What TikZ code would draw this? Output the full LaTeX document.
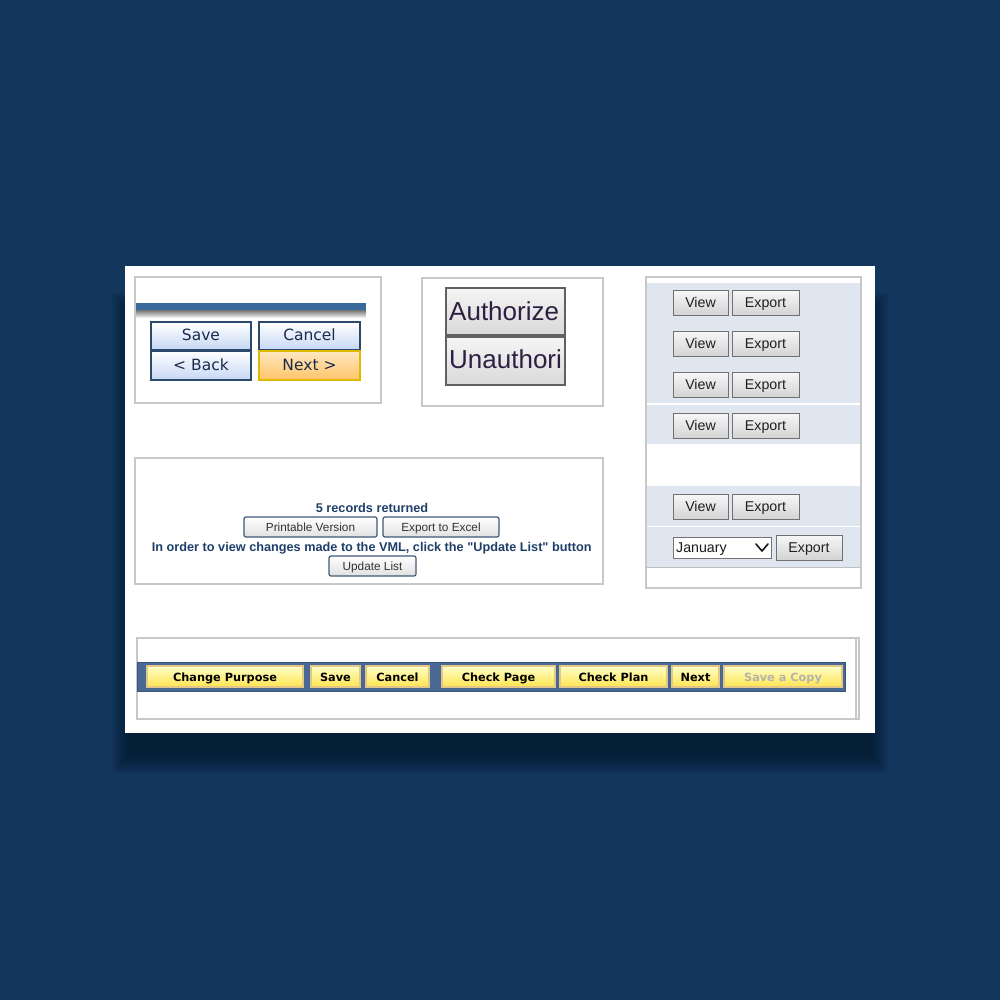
\documentclass[tikz,border=0pt]{standalone}
\usepackage{fontspec}
\newfontfamily\dv{DejaVu Sans}
\newfontfamily\lib{Liberation Sans}
\definecolor{bgc}{HTML}{13375C}
\definecolor{shd}{HTML}{050E1A}
\definecolor{pbord}{HTML}{C8C8C8}
\definecolor{barblue}{HTML}{3A6A9C}
\definecolor{navyb}{HTML}{2B4A6B}
\definecolor{lightblue}{HTML}{C6D7F4}
\definecolor{goldb}{HTML}{E0B800}
\definecolor{orangef}{HTML}{FFC468}
\definecolor{navytext}{HTML}{1A2A4A}
\definecolor{authtext}{HTML}{2C2042}
\definecolor{band}{HTML}{DFE6EF}
\definecolor{midtext}{HTML}{1F3F6A}
\definecolor{midbord}{HTML}{3F5A78}
\definecolor{steel}{HTML}{4A6894}
\definecolor{steelb}{HTML}{3A5478}
\definecolor{yelt}{HTML}{FFFFC8}
\definecolor{yelb}{HTML}{FFE450}
\definecolor{yelbord}{HTML}{E2C68A}
\definecolor{disabled}{HTML}{B4B4AC}
\tikzset{
  panel/.style={draw=pbord, line width=1.2pt, fill=white},
  box/.style={anchor=north west, inner sep=0pt, outer sep=0pt, text height=0.95em, text depth=0em},
  navybtn/.style={box, draw=navyb, line width=1.5pt, top color=white, bottom color=lightblue, text=navytext, font=\dv\fontsize{15.5}{18}\selectfont},
  nextbtn/.style={box, draw=goldb, line width=1.5pt, top color=white!60!orangef, bottom color=orangef, text=navytext, font=\dv\fontsize{15.5}{18}\selectfont},
  authbtn/.style={box, draw=black!62, line width=2.2pt, top color=black!4, bottom color=black!15},
  authtxt/.style={anchor=west, inner sep=0pt, text=authtext, font=\lib\fontsize{26}{30}\selectfont},
  graybtn/.style={box, draw=black!56, line width=1pt, top color=black!3, bottom color=black!17, text=black!88, font=\lib\fontsize{14.2}{16}\selectfont},
  midbtn/.style={box, draw=midbord, line width=1.2pt, rounded corners=2pt, top color=white, bottom color=black!12, text=black!80, font=\lib\fontsize{11.8}{14}\selectfont},
  midtxt/.style={inner sep=0pt, text=midtext, font=\lib\bfseries\fontsize{12.7}{15}\selectfont, text height=0.96em, text depth=0em},
  yelbtn/.style={box, draw=yelbord, line width=1.2pt, top color=yelt, bottom color=yelb, text=black, font=\dv\bfseries\fontsize{11.3}{13}\selectfont},
}
\begin{document}
\begin{tikzpicture}[x=1pt,y=-1pt]
\fill[bgc] (0,0) rectangle (1000,1000);
\useasboundingbox (0,0) rectangle (1000,1000);
% shadow
\foreach \i in {0,...,18} {
  \fill[shd, opacity=0.03] (129-\i,310-\i) rectangle (871+\i,756+\i);
}
% card
\fill[white] (125,266) rectangle (875,733);

% ---------- panel 1
\draw[panel] (135,277) rectangle (381,403);
\fill[barblue] (136,303) rectangle (366,310);
\shade[top color=black!55, bottom color=black!8] (136,310) rectangle (366,317);
\node[navybtn, minimum width=100pt, minimum height=28pt] (save1) at (151,322) {Save};
\node[navybtn, minimum width=101pt, minimum height=28pt] (cancel1) at (259,322) {Cancel};
\node[navybtn, minimum width=100pt, minimum height=29pt] (back1) at (151,351) {< Back};
\node[nextbtn, minimum width=101pt, minimum height=29pt] (next1) at (259,351) {Next >};

% ---------- panel 2
\draw[panel] (422,278) rectangle (603,406);
\begin{scope}
\node[authbtn, minimum width=119pt, minimum height=47pt] (auth) at (446,288) {};
\node[authbtn, minimum width=119pt, minimum height=48pt] (unauth) at (446,337) {};
\clip (447,288) rectangle (564,386);
\node[authtxt] (authT) at (449,311) {Authorize};
\node[authtxt] (unauthT) at (449,359.5) {Unauthori};
\end{scope}

% ---------- panel 3
\draw[panel] (646,277) rectangle (861,588);
\fill[band] (647,283) rectangle (860,403);
\fill[band] (647,405) rectangle (860,444);
\fill[band] (647,486) rectangle (860,526);
\fill[band] (647,527) rectangle (860,567);
\draw[black!25, line width=1.2pt] (647,567.5) -- (860,567.5);
\foreach \y/\n in {290/a,331/b,372/c,413/d,494/e} {
  \node[graybtn, minimum width=55pt, minimum height=25pt] (view\n) at (673,\y) {View};
  \node[graybtn, minimum width=67pt, minimum height=25pt] (exp\n) at (732,\y) {Export};
}
\node[box, draw=black!55, line width=1pt, fill=white, minimum width=98pt, minimum height=21pt] (drop) at (673,537) {};
\node[anchor=west, inner sep=0pt, text=black!90, font=\lib\fontsize{14.2}{16}\selectfont, text height=0.95em, text depth=0em] (dropT) at (676,547.5) {January};
\draw[black!90, line width=1.6pt, line cap=round, line join=round] (756,544) -- (762,551) -- (768,544);
\node[graybtn, minimum width=66pt, minimum height=25pt] (expf) at (776,535) {Export};

% ---------- panel 4
\draw[panel] (135,458) rectangle (603,584);
\node[midtxt] (rec) at (372,507.7) {5 records returned};
\node[midbtn, minimum width=133pt, minimum height=20pt] (print) at (244,517) {Printable Version};
\node[midbtn, minimum width=116pt, minimum height=20pt] (excel) at (383,517) {Export to Excel};
\node[midtxt] (info) at (371.7,546.7) {In order to view changes made to the VML, click the "Update List" button};
\node[midbtn, minimum width=87pt, minimum height=20pt] (upd) at (329,556) {Update List};

% ---------- panel 5
\draw[panel] (137,638) rectangle (859,719);
\draw[pbord, line width=1.2pt] (856,638) -- (856,719);
\fill[steel] (137,662) rectangle (845,691);
\draw[steelb, line width=1pt] (137,662) rectangle (845,691);
\node[yelbtn, minimum width=156pt, minimum height=21pt] (chp) at (147,666) {Change Purpose};
\node[yelbtn, minimum width=49pt, minimum height=21pt] (sv5) at (311,666) {Save};
\node[yelbtn, minimum width=63pt, minimum height=21pt] (cn5) at (366,666) {Cancel};
\node[yelbtn, minimum width=113pt, minimum height=21pt] (cpg) at (442,666) {Check Page};
\node[yelbtn, minimum width=107pt, minimum height=21pt] (cpl) at (560,666) {Check Plan};
\node[yelbtn, minimum width=47pt, minimum height=21pt] (nx5) at (672,666) {Next};
\node[yelbtn, minimum width=118pt, minimum height=21pt, text=disabled] (sac) at (724,666) {Save a Copy};
\end{tikzpicture}
\end{document}
